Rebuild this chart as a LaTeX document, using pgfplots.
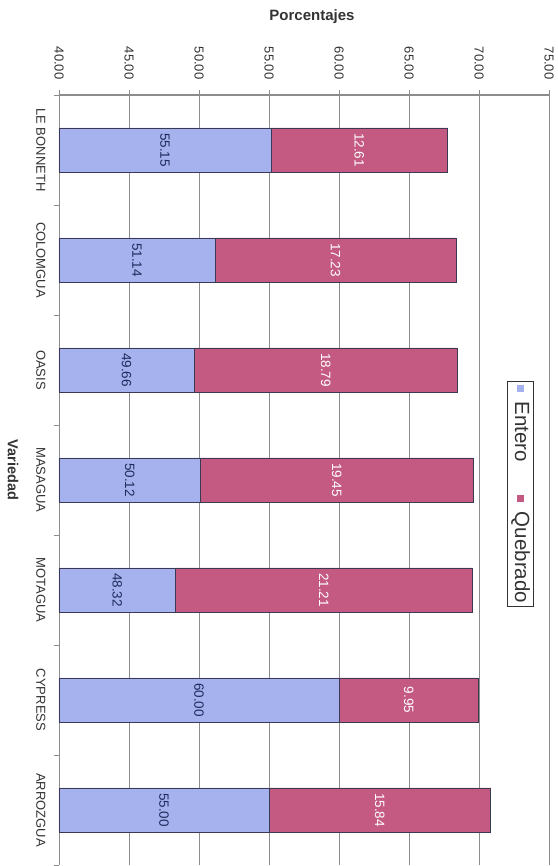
\documentclass[border=0pt]{standalone}
\usepackage{pgfplots}
\pgfplotsset{compat=1.18}
\usepackage{pgfplotstable}
\usepackage{fontspec}
\setmainfont{Liberation Sans}
\definecolor{entero}{HTML}{A6B2EE}
\definecolor{quebrado}{HTML}{C45A82}
\definecolor{gridc}{HTML}{8C8C8C}
\definecolor{txt}{HTML}{333333}
\definecolor{navy}{HTML}{1F2A5C}
\definecolor{barline}{HTML}{3A3A55}
% idx 6 = top category (LE BONNETH)
\pgfplotstableread{
idx E Q
6 55.15 12.61
5 51.14 17.23
4 49.66 18.79
3 50.12 19.45
2 48.32 21.21
1 60.00 9.95
0 55.00 15.84
}\data
\begin{document}
\begin{tikzpicture}
\begin{axis}[
  scale only axis, width=490pt, height=770pt,
  xbar stacked, bar width=44pt,
  xmin=40, xmax=75, ymin=-0.5, ymax=6.5,
  axis x line*=top, axis y line*=left,
  axis line style={draw=gridc, line width=0.8pt},
  x axis line style={line width=1.6pt},
  xtick={40,45,...,75},
  xmajorgrids, major grid style={draw=gridc, line width=0.8pt},
  /pgf/number format/fixed,
  /pgf/number format/fixed zerofill,
  /pgf/number format/precision=2,
  /pgf/number format/assume math mode=true,
  xticklabel style={font=\fontsize{13}{14}\selectfont, text=txt, yshift=7pt, rotate=-90, anchor=east},
  ytick={-0.5,0.5,1.5,2.5,3.5,4.5,5.5,6.5},
  yticklabels={ARROZGUA,CYPRESS,MOTAGUA,MASAGUA,OASIS,COLOMGUA,LE BONNETH,{}},
  y tick label as interval,
  yticklabel style={font=\fontsize{13}{14}\selectfont, text=txt, xshift=-5pt, rotate=-90, anchor=north},
  tick align=outside, major tick length=5pt,
  tick style={draw=gridc, line width=0.8pt},
  xlabel={Porcentajes}, ylabel={Variedad},
  every axis x label/.style={at={(axis description cs:0.5,1)}, anchor=center, xshift=8pt, yshift=78pt, font=\bfseries\fontsize{15}{16}\selectfont, text=txt},
  every axis y label/.style={at={(axis description cs:0,0.5)}, xshift=-37pt, yshift=10pt, rotate=-90, anchor=north, font=\bfseries\fontsize{14.5}{16}\selectfont, text=txt},
]
% stacked labels sit at the middle of each full segment; the blue one is moved
% to the middle of its visible part (from 40), i.e. 20 units = 280pt right
\addplot[fill=entero, draw=barline, line width=0.6pt,
  nodes near coords, point meta=explicit,
  nodes near coords style={xshift=280pt, rotate=-90, anchor=center, font=\fontsize{13.5}{14}\selectfont, text=navy}]
  table[x=E, y=idx, meta=E] {\data};
\addplot[fill=quebrado, draw=barline, line width=0.6pt,
  nodes near coords, point meta=explicit,
  nodes near coords style={rotate=-90, anchor=center, font=\fontsize{13.5}{14}\selectfont, text=white}]
  table[x=Q, y=idx, meta=Q] {\data};
\node[draw=txt, line width=0.6pt, fill=white, rotate=-90, inner xsep=3pt, inner ysep=3.5pt,
  font=\fontsize{20.5}{22}\selectfont, text=txt]
  at (axis description cs:0.942,0.482)
  {\textcolor{entero}{\rule[2pt]{7pt}{7pt}}\hspace{10pt}Entero\hspace{33pt}\textcolor{quebrado}{\rule[2pt]{7pt}{7pt}}\hspace{10pt}Quebrado};
\end{axis}
\pgfresetboundingbox
\path (-59pt,-1pt) rectangle (498pt,865pt);
\end{tikzpicture}
\end{document}
